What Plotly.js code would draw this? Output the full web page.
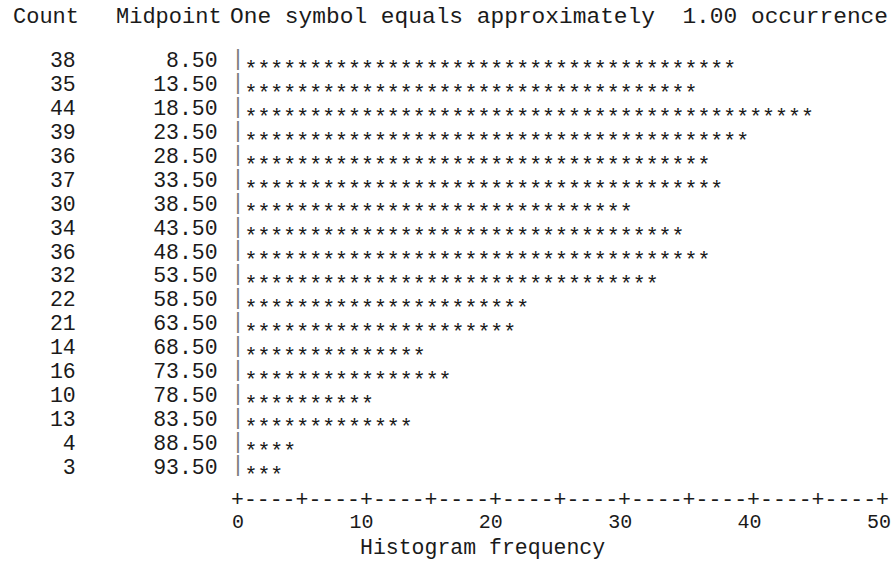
<!DOCTYPE html>
<html><head><meta charset="utf-8">
<script src="https://cdn.plot.ly/plotly-3.0.1.min.js"></script>
<style>html,body{margin:0;padding:0;background:#fff}#chart{width:896px;height:561px}</style>
</head><body><div id="chart"></div>
<script>
// ---- data ----
const midpoints = ['8.50','13.50','18.50','23.50','28.50','33.50','38.50','43.50','48.50','53.50','58.50','63.50','68.50','73.50','78.50','83.50','88.50','93.50'];
const counts = [38,35,44,39,36,37,30,34,36,32,22,21,14,16,10,13,4,3];
const xTickValues = [0,10,20,30,40,50];
const xTickLabels = ['0','10','20','30','40','50'];
const headerCount = 'Count';
const headerMidpoint = 'Midpoint';
const headerNote = 'One symbol equals approximately  1.00 occurrence';
const xTitle = 'Histogram frequency';
const symbol = '*';

// ---- build ----
const FONT = '"Liberation Mono", "Courier New", Courier, monospace';
const FS = 21.5;
const INK = '#1a1a1a';
const NB = '\u00a0';
const rows = counts.map((_, i) => i);
const pad = (s, n) => NB.repeat(Math.max(0, n - s.length)) + s;
const XMAX = xTickValues[xTickValues.length - 1];

const sx = [], sy = [], st = [];
counts.forEach((c, r) => { for (let k = 1; k <= c; k++) { sx.push(k); sy.push(r); st.push(symbol); } });

const starTrace = {
  type: 'scatter', mode: 'text', x: sx, y: sy, text: st,
  textposition: 'bottom center', cliponaxis: false, hoverinfo: 'skip',
  textfont: {family: FONT, size: FS, color: INK}
};
const pipeTrace = {
  type: 'scatter', mode: 'text', x: rows.map(() => 0), y: rows, text: rows.map(() => '|'),
  textposition: 'middle center', cliponaxis: false, hoverinfo: 'skip',
  textfont: {family: FONT, size: FS, color: '#7a7a7a'}
};

const yTickText = rows.map(r => pad(String(counts[r]), 4) + NB.repeat(6) + pad(midpoints[r], 5));

// axis line of the text histogram: "+----+----+..."
const step = 5;
let axisStr = '';
for (let v = xTickValues[0]; v <= XMAX; v++) axisStr += (v % step === 0) ? '+' : '-';

// paper x for a pixel column (plot spans 238..885)
const px = p => (p - 238) / 647;

const layout = {
  width: 896, height: 561,
  margin: {l: 238, r: 11, t: 48, b: 83},
  paper_bgcolor: '#fff', plot_bgcolor: '#fff',
  showlegend: false,
  font: {family: FONT, size: FS, color: INK},
  xaxis: {
    range: [0, XMAX], showgrid: false, zeroline: false, showline: false,
    tickvals: xTickValues,
    // last digit of each label sits on its tick, as in the text plot
    ticktext: xTickLabels.map(t => t.length === 1 ? NB + t : t),
    ticklabelshift: -6,
    ticks: 'outside', ticklen: 25, tickcolor: 'rgba(0,0,0,0)',
    tickfont: {family: FONT, size: 20, color: INK}
  },
  yaxis: {
    range: [counts.length - 0.5, -0.5], showgrid: false, zeroline: false, showline: false,
    tickvals: rows, ticktext: yTickText,
    ticks: 'outside', ticklen: 15, tickcolor: 'rgba(0,0,0,0)',
    tickfont: {family: FONT, size: FS, color: INK}
  },
  annotations: [
    {xref: 'paper', yref: 'paper', x: px(11), y: 1.072, xanchor: 'left', yanchor: 'middle', text: headerCount, showarrow: false, font: {family: FONT, size: 22, color: INK}},
    {xref: 'paper', yref: 'paper', x: px(114), y: 1.072, xanchor: 'left', yanchor: 'middle', text: headerMidpoint, showarrow: false, font: {family: FONT, size: 22, color: INK}},
    {xref: 'paper', yref: 'paper', x: px(228), y: 1.072, xanchor: 'left', yanchor: 'middle', text: headerNote.replace(/ /g, NB), showarrow: false, font: {family: FONT, size: 22.85, color: INK}},
    {xref: 'paper', yref: 'paper', x: px(229), y: -0.051, xanchor: 'left', yanchor: 'middle', text: axisStr, showarrow: false, font: {family: FONT, size: FS, color: INK}},
    {xref: 'paper', yref: 'paper', x: px(358), y: -0.162, xanchor: 'left', yanchor: 'middle', text: xTitle.replace(/ /g, NB), showarrow: false, font: {family: FONT, size: FS, color: INK}}
  ]
};

Plotly.newPlot('chart', [pipeTrace, starTrace], layout, {displayModeBar: false, staticPlot: true});
</script></body></html>
